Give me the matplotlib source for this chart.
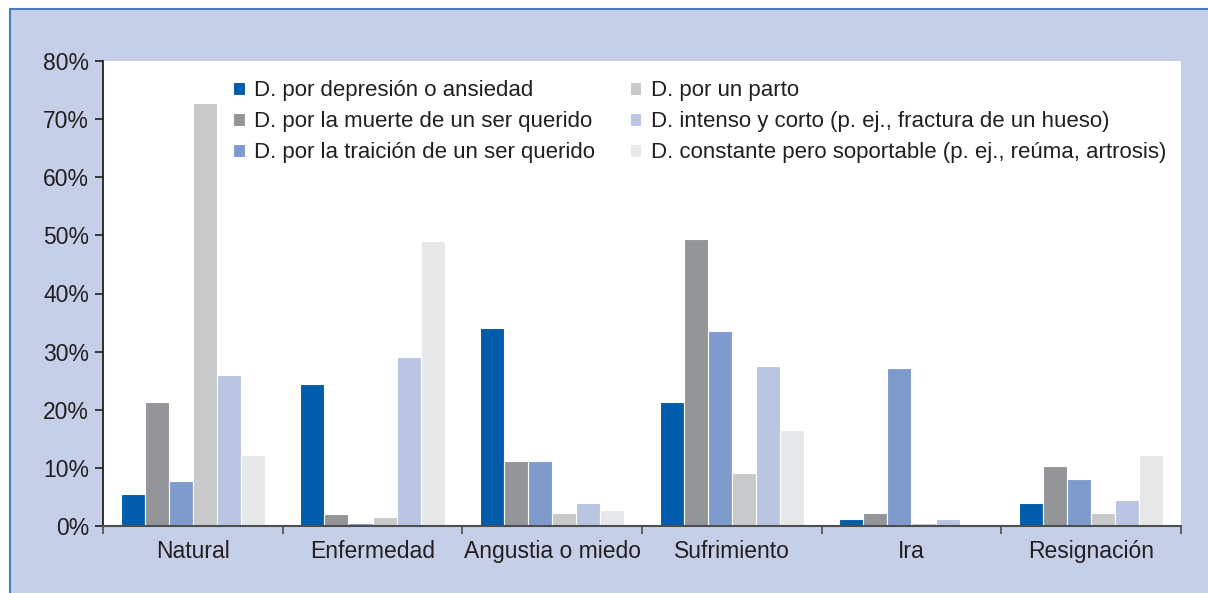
import matplotlib.pyplot as plt
import numpy as np
from matplotlib.patches import Rectangle
from matplotlib.lines import Line2D

categorias = ['Natural', 'Enfermedad', 'Angustia o miedo', 'Sufrimiento', 'Ira', 'Resignación']
series = ['D. por depresión o ansiedad',
          'D. por la muerte de un ser querido',
          'D. por la traición de un ser querido',
          'D. por un parto',
          'D. intenso y corto (p. ej., fractura de un hueso)',
          'D. constante pero soportable (p. ej., reúma, artrosis)']

depresion = [5.5, 24.5, 34.0, 21.4, 1.2, 3.9]
muerte = [21.4, 2.0, 11.2, 49.3, 2.3, 10.4]
traicion = [7.7, 0.6, 11.2, 33.6, 27.1, 8.1]
parto = [72.8, 1.6, 2.3, 9.2, 0.5, 2.3]
intenso = [26.0, 29.0, 4.0, 27.5, 1.2, 4.4]
constante = [12.3, 49.0, 2.7, 16.5, 0.4, 12.3]

valores = [depresion, muerte, traicion, parto, intenso, constante]
colores = ['#005baa', '#939598', '#7f9bcd', '#c8c9cb', '#bac5e3', '#e6e7e9']
fondo = '#c5cfe8'

plt.rcParams['font.family'] = ['Liberation Sans', 'DejaVu Sans']

W, H = 1208, 593
fig = plt.figure(figsize=(W / 100, H / 100), dpi=100, facecolor='white')

# marco azul claro con linea en el borde superior e izquierdo
fig.patches.append(Rectangle((10 / W, 0), 1, 1 - 9 / H, transform=fig.transFigure,
                             facecolor=fondo, edgecolor='none', zorder=-10))
fig.lines.append(Line2D([10 / W, 1], [1 - 9 / H, 1 - 9 / H], transform=fig.transFigure,
                        color='#4a7cc0', lw=1.5, zorder=-9))
fig.lines.append(Line2D([10 / W, 10 / W], [0, 1 - 9 / H], transform=fig.transFigure,
                        color='#4a7cc0', lw=1.5, zorder=-9))

ax = fig.add_axes([103 / W, 1 - 526 / H, (1181 - 103) / W, (526 - 61) / H])
ax.set_facecolor('white')

x = np.arange(len(categorias))
ancho = 0.134
for i, (vals, col, nombre) in enumerate(zip(valores, colores, series)):
    ax.bar(x + (i - 2.5) * ancho, vals, ancho, color=col, edgecolor='white',
           linewidth=0.8, label=nombre, zorder=2)

ax.set_xlim(-0.5, len(categorias) - 0.5)
ax.set_ylim(0, 80)
ax.set_yticks(np.arange(0, 81, 10))
ax.set_yticklabels([f'{v}%' for v in range(0, 81, 10)])
ax.set_xticks(x)
ax.set_xticklabels(categorias)
ax.set_xticks(np.arange(-0.5, len(categorias)), minor=True)
ax.tick_params(axis='x', which='major', length=0, pad=10, labelsize=16.5, colors='#231f20')
ax.tick_params(axis='x', which='minor', length=6, width=1.2, direction='out', color='#4d4d4d')
ax.tick_params(axis='y', length=6, width=1.2, direction='out', pad=4, labelsize=16.5,
               colors='#231f20')

for lado in ['top', 'right']:
    ax.spines[lado].set_visible(False)
ax.spines['left'].set_color('#231f20')
ax.spines['left'].set_linewidth(1.3)
ax.spines['bottom'].set_color('#4d4d4d')
ax.spines['bottom'].set_linewidth(1.5)

ax.legend(ncol=2, loc='upper left', bbox_to_anchor=(233 / W, 1 - 80 / H),
          bbox_transform=fig.transFigure, frameon=False, fontsize=16.0,
          handlelength=0.53, handleheight=0.53, handletextpad=0.42,
          columnspacing=1.55, labelspacing=0.45, borderpad=0, borderaxespad=0,
          labelcolor='#231f20')

fig.savefig('out.png', dpi=100, facecolor=fig.get_facecolor())
